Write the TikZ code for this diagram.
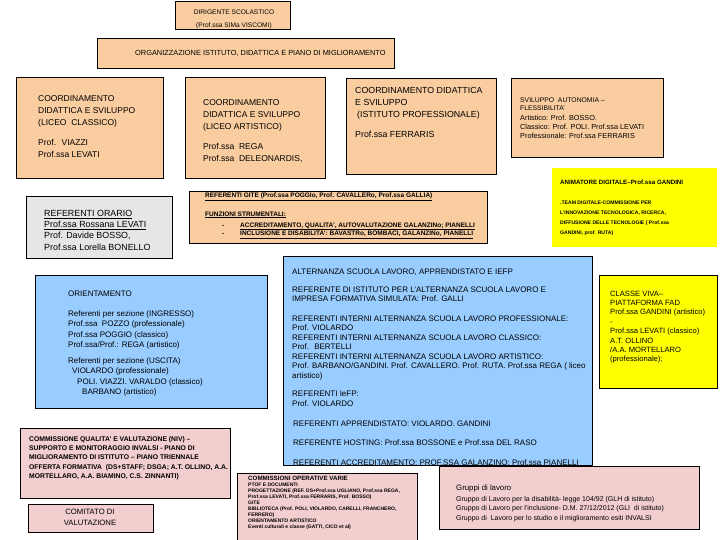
\documentclass[tikz,border=0pt]{standalone}
\usepackage{fontspec}
\setmainfont{Liberation Sans}
\usepackage{tikz}
\definecolor{colPesca}{RGB}{250,205,160}
\definecolor{colCielo}{RGB}{153,204,255}
\definecolor{colGiallo}{RGB}{255,255,0}
\definecolor{colRosa}{RGB}{243,206,206}
\definecolor{colGrigio}{RGB}{230,230,230}
\newcommand{\fsz}[2]{\fontsize{#1}{#2}\selectfont}

\begin{document}
\begin{tikzpicture}[x=1pt, y=-1pt,
    box/.style={draw=black, line width=0.8pt},
    testo/.style={anchor=base west, align=left, inner sep=0pt}]
    \useasboundingbox[fill=white] (0,0) rectangle (720,540);
    % (multi-line nodes: base = baseline of the last line)

    % Dirigente
    \draw[box, fill=colPesca] (175,1) rectangle (290,29);
    \node[anchor=base, align=center, inner sep=0pt, font=\fsz{6.6}{12.5}] (dirigente) at (234,27.5) {DIRIGENTE SCOLASTICO\\(Prof.ssa SIMa VISCOMI)};

    % Organizzazione
    \draw[box, fill=colPesca] (97,38) rectangle (394,68);
    \node[testo, font=\fsz{7.4}{9}] (organizz) at (135,56) {ORGANIZZAZIONE ISTITUTO, DIDATTICA E PIANO DI MIGLIORAMENTO};

    % Coordinamenti
    \draw[box, fill=colPesca] (16,77) rectangle (163,178);
    \node[testo, font=\fsz{8.5}{12}] (coordClassico) at (38,158) {COORDINAMENTO\\DIDATTICA E SVILUPPO\\(LICEO~ CLASSICO)\\[8pt]Prof.~ VIAZZI\\Prof.ssa LEVATI};
    \draw[box, fill=colPesca] (185,77) rectangle (325,178);
    \node[testo, font=\fsz{8.5}{12}] (coordArtistico) at (203,162) {COORDINAMENTO\\DIDATTICA E SVILUPPO\\(LICEO ARTISTICO)\\[8pt]Prof.ssa~ REGA\\Prof.ssa~ DELEONARDIS,};
    \draw[box, fill=colPesca] (346,78) rectangle (496,174);
    \node[testo, font=\fsz{8.8}{12}] (coordProf) at (355,138) {COORDINAMENTO DIDATTICA\\E SVILUPPO\\\hspace{2pt}(ISTITUTO PROFESSIONALE)\\[8pt]Prof.ssa FERRARIS};

    % Sviluppo autonomia
    \draw[box, fill=colPesca] (511,78) rectangle (663,157);
    \node[testo, font=\fsz{6.8}{7.8}] (svilTitolo) at (520,110.8) {SVILUPPO~ AUTONOMIA –\\FLESSIBILITA'};
    \node[testo, font=\fsz{7.3}{9}] (svilNomi) at (520,138.5) {Artistico: Prof. BOSSO.\\Classico: Prof. POLI. Prof.ssa LEVATI\\Professionale: Prof.ssa FERRARIS};

    % Animatore digitale
    \draw[fill=colGiallo, draw=none] (552,168) rectangle (717,247);
    \node[testo, font=\bfseries\fsz{6.2}{8}] (animatore) at (560,185) {ANIMATORE DIGITALE–Prof.ssa GANDINI};
    \node[testo, font=\bfseries\fsz{5.1}{9.8}] (team) at (560,234.4) {.TEAM DIGITALE-COMMISSIONE PER\\L'INNOVAZIONE TECNOLOGICA, RICERCA,\\DIFFUSIONE DELLE TECNOLOGIE ( Prof.ssa\\GANDINI, prof. RUTA)};

    % Referenti orario
    \draw[box, fill=colGrigio] (26,196) rectangle (172,258);
    \node[testo, font=\fsz{8.9}{11}] (orario) at (44,250) {\underline{REFERENTI ORARIO}\\\underline{Prof.ssa Rossana LEVATI}\\Prof. Davide BOSSO,\\Prof.ssa Lorella BONELLO};

    % Referenti gite e funzioni strumentali
    \draw[box, fill=colPesca] (189,191) rectangle (487,243);
    \node[testo, font=\bfseries\fsz{6.5}{8}] (gite) at (205,197.5) {\underline{REFERENTI GITE (Prof.ssa POGGIo, Prof. CAVALLERo, Prof.ssa GALLIA)}};
    \node[testo, font=\bfseries\fsz{6.5}{8}] (funzioni) at (205,216) {\underline{FUNZIONI STRUMENTALI:}};
    \node[testo, font=\bfseries\fsz{6.5}{9}] (trattini) at (222,236) {-\\-};
    \node[testo, font=\bfseries\fsz{6.5}{9}] (funzVoci) at (240,236) {\underline{ACCREDITAMENTO, QUALITA', AUTOVALUTAZIONE GALANZINo; PIANELLI}\\\underline{INCLUSIONE E DISABILITA': BAVASTRo, BOMBACI, GALANZINo, PIANELLI}};

    % Orientamento
    \draw[box, fill=colCielo] (35,275) rectangle (267,408);
    \node[testo, font=\fsz{8}{10.5}] (orient) at (68,296) {ORIENTAMENTO};
    \node[testo, font=\fsz{8}{10.5}] (orientIn) at (68,347.5) {Referenti per sezione (INGRESSO)\\Prof.ssa~ POZZO (professionale)\\Prof.ssa POGGIO (classico)\\Prof.ssa/Prof.: REGA (artistico)};
    \node[testo, font=\fsz{8}{10.5}] (orientOut) at (68,394.5) {Referenti per sezione (USCITA)\\\hspace{4pt}VIOLARDO (professionale)\\\hspace{9pt}POLI. VIAZZI. VARALDO (classico)\\\hspace{14pt}BARBANO (artistico)};

    % Alternanza scuola lavoro
    \draw[box, fill=colCielo] (283,256) rectangle (592,465);
    \node[testo, font=\fsz{8}{9}] (altTitolo) at (292,274) {ALTERNANZA SCUOLA LAVORO, APPRENDISTATO E IEFP};
    \node[testo, font=\fsz{8}{9}] (altIstituto) at (292,301) {REFERENTE DI ISTITUTO PER L'ALTERNANZA SCUOLA LAVORO E\\IMPRESA FORMATIVA SIMULATA: Prof. GALLI};
    \node[testo, font=\fsz{8}{9.5}] (altInterni) at (292,378) {REFERENTI INTERNI ALTERNANZA SCUOLA LAVORO PROFESSIONALE:\\Prof. VIOLARDO\\REFERENTI INTERNI ALTERNANZA SCUOLA LAVORO CLASSICO:\\Prof.~ BERTELLI\\REFERENTI INTERNI ALTERNANZA SCUOLA LAVORO ARTISTICO:\\Prof. BARBANO/GANDINI. Prof. CAVALLERO. Prof. RUTA. Prof.ssa REGA ( liceo\\artistico)};
    \node[testo, font=\fsz{8}{10}] (altIefp) at (292,406) {REFERENTI IeFP:\\Prof. VIOLARDO};
    \node[testo, font=\fsz{8}{9}] (altAppr) at (293,426) {REFERENTI APPRENDISTATO: VIOLARDO. GANDINI};
    \node[testo, font=\fsz{8}{9}] (altHosting) at (293,445) {REFERENTE HOSTING: Prof.ssa BOSSONE e Prof.ssa DEL RASO};
    \node[testo, font=\fsz{8}{9}] (altAccred) at (293,465) {REFERENTI ACCREDITAMENTO: PROF.SSA GALANZINO: Prof.ssa PIANELLI};

    % Classe viva
    \draw[box, fill=colGiallo] (599,275) rectangle (717,388);
    \node[testo, font=\fsz{7.6}{9.4}] (classeViva) at (610,361.8) {CLASSE VIVA--\\PIATTAFORMA FAD\\Prof.ssa GANDINI (artistico)\\-\\Prof.ssa LEVATI (classico)\\A.T. OLLINO\\/A.A. MORTELLARO\\(professionale);};

    % Commissione qualita'
    \draw[box, fill=colRosa] (20,428) rectangle (230,498);
    \node[testo, font=\bfseries\fsz{6.8}{9.2}] (qualita) at (29,478.3) {COMMISSIONE QUALITA' E VALUTAZIONE (NIV) --\\SUPPORTO E MONITORAGGIO INVALSI - PIANO DI\\MIGLIORAMENTO DI ISTITUTO – PIANO TRIENNALE\\OFFERTA FORMATIVA~ (DS+STAFF; DSGA; A.T. OLLINO, A.A.\\MORTELLARO, A.A. BIAMINO, C.S. ZINNANTI)};

    % Comitato di valutazione
    \draw[box, fill=colRosa] (28,504) rectangle (153,532);
    \node[anchor=base, align=center, inner sep=0pt, font=\fsz{7.7}{11}] (comitato) at (90,525.5) {COMITATO DI\\VALUTAZIONE};

    % Commissioni operative
    \draw[box, fill=colRosa] (237,473) rectangle (417,545);
    \node[testo, font=\bfseries\fsz{6.2}{8}] (operative) at (248,480) {COMMISSIONI OPERATIVE VARIE};
    \node[testo, font=\bfseries\fsz{5}{5.95}] (operVoci) at (248,528.6) {PTOF E DOCUMENTI\\PROGETTAZIONE (REF. DS+Prof.ssa UGLIANO, Prof.ssa REGA,\\Prof.ssa LEVATI, Prof.ssa FERRARIS, Prof. BOSSO)\\GITE\\BIBLIOTECA (Prof. POLI, VIOLARDO, CARELLI, FRANCHERO,\\FERRERO)\\ORIENTAMENTO ARTISTICO\\Eventi culturali e classe (GATTI, CICO et al)};

    % Gruppi di lavoro
    \draw[box, fill=colRosa] (439,466) rectangle (699,529);
    \node[testo, font=\fsz{7.8}{9}] (gruppi) at (456,490) {Gruppi di lavoro};
    \node[testo, font=\fsz{7}{9.5}] (gruppiVoci) at (456,520) {Gruppo di Lavoro per la disabilità- legge 104/92 (GLH di istituto)\\Gruppo di Lavoro per l'inclusione- D.M. 27/12/2012 (GLI~ di istituto)\\Gruppo di~ Lavoro per lo studio e il miglioramento esiti INVALSI};
\end{tikzpicture}
\end{document}
